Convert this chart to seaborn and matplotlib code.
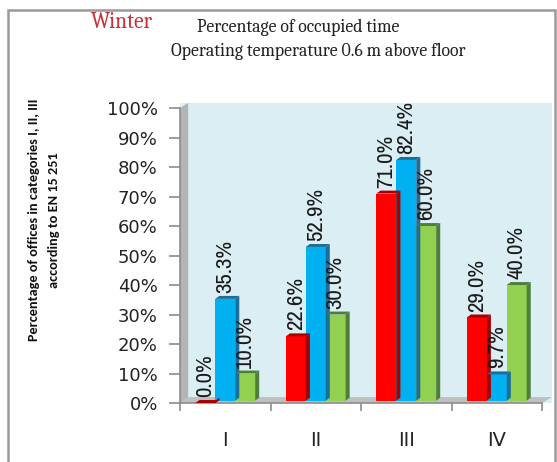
import matplotlib
matplotlib.use("Agg")
import matplotlib.pyplot as plt
from matplotlib.patches import Polygon, Rectangle
from matplotlib.ticker import PercentFormatter, FixedLocator
import seaborn as sns
import pandas as pd

# Share of offices in each EN 15251 category (winter, operative temperature 0.6 m)
categories = ["I", "II", "III", "IV"]
series_names = ["Series 1", "Series 2", "Series 3"]
series_1 = [0.0, 22.6, 71.0, 29.0]
series_2 = [35.3, 52.9, 82.4, 9.7]
series_3 = [10.0, 30.0, 60.0, 40.0]
y_ticks = [0, 10, 20, 30, 40, 50, 60, 70, 80, 90, 100]

face_colors = ["#FF0000", "#00B0F0", "#92D050"]
side_colors = ["#A80000", "#1A6E9A", "#4E7F38"]

rows = []
for name, values in zip(series_names, [series_1, series_2, series_3]):
    for cat, v in zip(categories, values):
        rows.append({"category": cat, "series": name, "value": v})
df = pd.DataFrame(rows)

sns.set_theme(style="white")
plt.rcParams["font.family"] = ["DejaVu Sans"]

fig = plt.figure(figsize=(5.57, 4.62), dpi=100)
ax = fig.add_axes([180 / 557, 1 - 403 / 462, 372 / 557, 300 / 462])

ax.set_facecolor("#DAEEF3")
sns.barplot(data=df, x="category", y="value", hue="series", order=categories,
            hue_order=series_names, palette=face_colors, width=0.66,
            saturation=1, legend=False, ax=ax, zorder=3, linewidth=0)

ax.set_xlim(-0.5, 3.61)
ax.set_ylim(0, 101.7)

# floor and side wall of the pseudo-3D frame
floor = Polygon([(-0.5, 0), (-0.41, 2.0), (3.61, 2.0), (3.5, 0)],
                closed=True, facecolor="#BFBFBF", edgecolor="none", zorder=1)
ax.add_patch(floor)
wall = Polygon([(-0.5, 0), (-0.5, 100), (-0.41, 101.7), (-0.41, 2.0)],
               closed=True, facecolor="#B4B4B4", edgecolor="none", zorder=1)
ax.add_patch(wall)

label_font = ["Archivo Narrow", "DejaVu Sans"]

# depth faces and value labels for every bar
dx, dy = 0.045, 1.0
for container, side, values in zip(ax.containers, side_colors,
                                   [series_1, series_2, series_3]):
    for bar, v in zip(container, values):
        x0 = bar.get_x()
        w = bar.get_width()
        h = bar.get_height()
        bar.set_y(0.8)
        bar.set_height(max(h - 0.8, 0))
        ax.add_patch(Polygon([(x0 + w, 0.8), (x0 + w + dx, 0.8 + dy),
                              (x0 + w + dx, h + dy), (x0 + w, h)],
                             closed=True, facecolor=side, edgecolor="none",
                             zorder=3))
        ax.add_patch(Polygon([(x0, h), (x0 + dx, h + dy),
                              (x0 + w + dx, h + dy), (x0 + w, h)],
                             closed=True, facecolor=side, edgecolor="none",
                             zorder=3))
        ax.text(x0 + w / 2, h + 2.0, f"{v:.1f}%", rotation=90,
                ha="center", va="bottom", fontsize=16.5, family=label_font,
                color="#1A1A1A", zorder=5, clip_on=False)

# axes styling
for s in ["top", "right"]:
    ax.spines[s].set_visible(False)
for s in ["left", "bottom"]:
    ax.spines[s].set_color("#8C8C8C")
    ax.spines[s].set_linewidth(1.2)
ax.spines["left"].set_bounds(0, 100)
ax.spines["bottom"].set_bounds(-0.5, 3.5)

ax.yaxis.set_major_locator(FixedLocator(y_ticks))
ax.yaxis.set_major_formatter(PercentFormatter(100, decimals=0))
ax.tick_params(axis="y", which="major", left=True, length=8, width=1.2,
               color="#8C8C8C", pad=8, labelsize=13, labelcolor="#222222")
ax.set_xticks([-0.5, 0.5, 1.5, 2.5, 3.5], minor=True)
ax.tick_params(axis="x", which="minor", bottom=True, length=6, width=1.2,
               color="#8C8C8C")
ax.tick_params(axis="x", which="major", bottom=False, length=0, pad=20,
               labelsize=14, labelcolor="#222222")
ax.set_xlabel("")
ax.set_ylabel("")

fig.text(44 / 557, 1 - 220 / 462,
         "Percentage of offices in categories I, II, III\naccording to EN 15 251",
         rotation=90, ha="center", va="center", fontsize=10.3,
         family=["Carlito", "DejaVu Sans"], weight="bold",
         linespacing=1.7, color="#111111")

serif = ["Caladea", "DejaVu Serif"]
fig.text(122 / 557, 1 - 22 / 462, "Winter", ha="center", va="center",
         fontsize=15.5, family=serif, color="#C8303A")
fig.text(298 / 557, 1 - 27 / 462, "Percentage of occupied time",
         ha="center", va="center", fontsize=12.8, family=serif, color="#222222")
fig.text(318 / 557, 1 - 51 / 462, "Operating temperature 0.6 m above floor",
         ha="center", va="center", fontsize=12.8, family=serif, color="#222222")

# outer frame
fig.patches.append(Rectangle((8 / 557, -0.02), 547 / 557, 0.02 + (462 - 10) / 462,
                             transform=fig.transFigure, fill=False,
                             edgecolor="#9A9A9A", linewidth=1.8))

fig.savefig("out.png", dpi=100)
